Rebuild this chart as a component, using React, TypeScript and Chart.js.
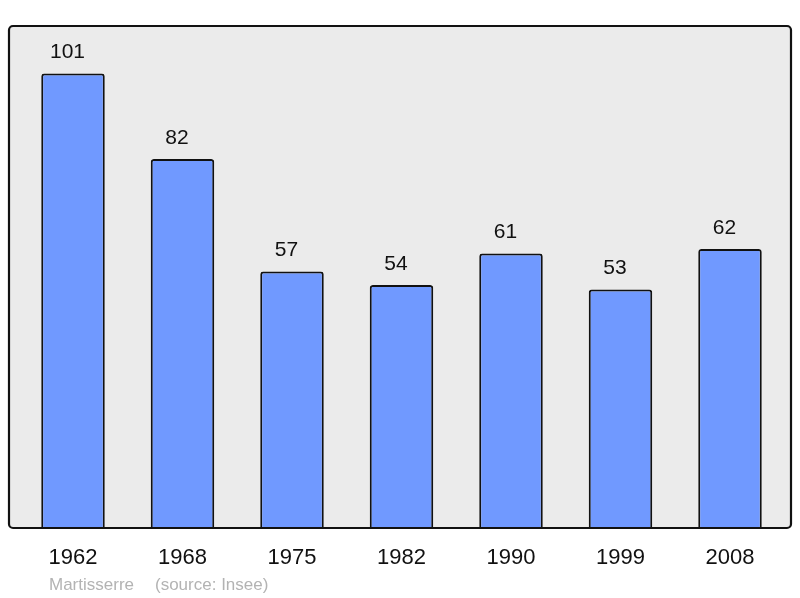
import { useEffect, useRef } from "react";
import { Chart, registerables } from "chart.js";

Chart.register(...registerables);

const years = ["1962", "1968", "1975", "1982", "1990", "1999", "2008"];
const population = [101, 82, 57, 54, 61, 53, 62];
const yMax = 111.56;
const footerName = "Martisserre";
const footerSource = "(source: Insee)";

const FONT = "'Liberation Sans', Arial, sans-serif";

const framePlugin = {
  id: "frame",
  beforeDraw(chart: any) {
    const { ctx, chartArea } = chart;
    const x0 = chartArea.left - 9.25;
    const x1 = chartArea.right + 6.25;
    const y0 = chartArea.top;
    const y1 = chartArea.bottom;
    ctx.save();
    ctx.fillStyle = "#ffffff";
    ctx.fillRect(0, 0, chart.width, chart.height);
    ctx.beginPath();
    ctx.roundRect(x0, y0, x1 - x0, y1 - y0, 4);
    ctx.fillStyle = "#ebebeb";
    ctx.fill();
    ctx.restore();
  },
  afterDatasetsDraw(chart: any) {
    const { ctx, chartArea } = chart;
    const x0 = chartArea.left - 9.25;
    const x1 = chartArea.right + 6.25;
    const y0 = chartArea.top;
    const y1 = chartArea.bottom;
    ctx.save();
    ctx.beginPath();
    ctx.roundRect(x0, y0, x1 - x0, y1 - y0, 4);
    ctx.lineWidth = 2.2;
    ctx.strokeStyle = "#111111";
    ctx.stroke();
    // value labels
    const meta = chart.getDatasetMeta(0);
    ctx.font = `21px ${FONT}`;
    ctx.fillStyle = "#111111";
    ctx.textAlign = "center";
    ctx.textBaseline = "alphabetic";
    meta.data.forEach((bar: any, i: number) => {
      ctx.fillText(String(population[i]), bar.x - 5.5, bar.y - 15.5);
    });
    // footer
    ctx.font = `17px ${FONT}`;
    ctx.fillStyle = "#b3b3b3";
    ctx.textAlign = "left";
    ctx.fillText(footerName, 49, 590);
    ctx.fillText(footerSource, 155, 590);
    ctx.restore();
  },
};

export default function App() {
  const ref = useRef<HTMLCanvasElement | null>(null);
  useEffect(() => {
    if (!ref.current) return;
    const chart = new Chart(ref.current, {
      type: "bar",
      data: {
        labels: years,
        datasets: [
          {
            data: population,
            backgroundColor: "#7099ff",
            borderColor: "#111111",
            borderWidth: 2,
            borderRadius: 3,
            categoryPercentage: 1,
            barPercentage: 0.58,
          },
        ],
      },
      options: {
        animation: false,
        responsive: false,
        layout: { padding: { left: 18.25, right: 15.25, top: 26, bottom: 0 } },
        plugins: { legend: { display: false }, tooltip: { enabled: false } },
        scales: {
          x: {
            grid: { display: false },
            border: { display: false },
            ticks: {
              color: "#111111",
              font: { family: FONT, size: 22 },
              padding: 9,
              maxRotation: 0,
            },
            afterFit: (axis: any) => {
              axis.height = 70;
            },
          },
          y: { display: false, min: 0, max: yMax },
        },
      },
      plugins: [framePlugin],
    });
    return () => chart.destroy();
  }, []);
  return (
    <div style={{ position: "fixed", left: 0, top: 0, width: 800, height: 598 }}>
      <canvas ref={ref} width={800} height={598} style={{ width: 800, height: 598, display: "block" }} />
    </div>
  );
}
